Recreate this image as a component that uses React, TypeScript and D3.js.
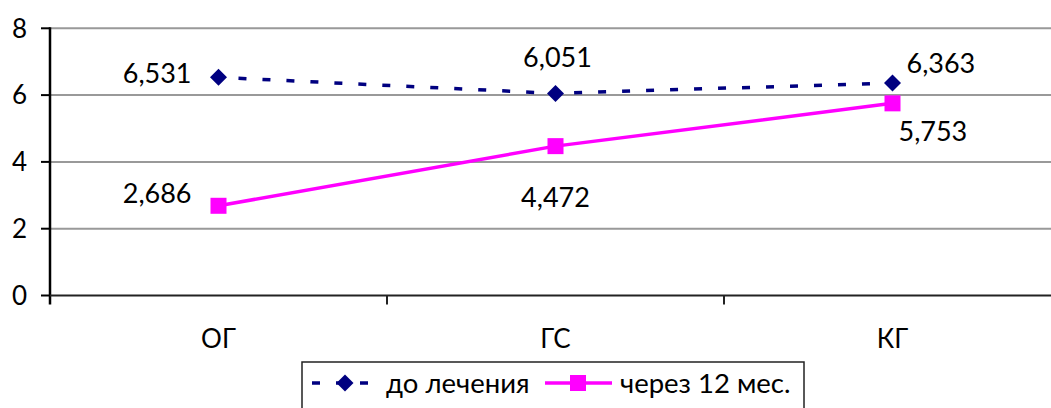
import React from "react";
import * as d3 from "d3";

const categories = ["ОГ", "ГС", "КГ"];
const seriesNames = ["до лечения", "через 12 мес."];
const beforeValues = [6.531, 6.051, 6.363];
const afterValues = [2.686, 4.472, 5.753];
const beforeLabels = ["6,531", "6,051", "6,363"];
const afterLabels = ["2,686", "4,472", "5,753"];
const yTicks = [0, 2, 4, 6, 8];

const W = 1051;
const H = 408;
const FONT = "Lato, 'Open Sans', sans-serif";

export default function App() {
  const x0 = 50;
  const band = 337;
  const x = d3
    .scaleBand<string>()
    .domain(categories)
    .range([x0, x0 + band * categories.length])
    .padding(0);
  const cx = (c: string) => (x(c) as number) + x.bandwidth() / 2;
  const y = d3.scaleLinear().domain([0, 8]).range([295.5, 28.3]);

  const line = d3
    .line<number>()
    .x((_, i) => cx(categories[i]))
    .y((d) => y(d));

  const navy = "#000080";
  const pink = "#FF00FF";

  // label offsets (dx, dy, anchor) relative to point
  const beforeOff: [number, number, string][] = [
    [-27, -4, "end"],
    [2, -36, "middle"],
    [14, -20, "start"],
  ];
  const afterOff: [number, number, string][] = [
    [-27, -13, "end"],
    [0, 51, "middle"],
    [6, 28, "start"],
  ];

  const diamond = (px: number, py: number, r: number) =>
    `M${px},${py - r}L${px + r},${py}L${px},${py + r}L${px - r},${py}Z`;

  return (
    <svg
      width={W}
      height={H}
      style={{ position: "absolute", left: 0, top: 0, background: "#fff" }}
      fontFamily={FONT}
    >
      {/* gridlines */}
      {yTicks.map((t) =>
        t === 0 ? null : (
          <line key={t} x1={x0} x2={W} y1={y(t)} y2={y(t)} stroke="#999" strokeWidth={2} />
        )
      )}
      {/* y ticks + labels */}
      {yTicks.map((t) => (
        <g key={"t" + t}>
          <line x1={41} x2={x0} y1={y(t)} y2={y(t)} stroke="#000" strokeWidth={2} />
          <text x={27} y={y(t)} dy="0.36em" textAnchor="end" fontSize={26} fill="#000">
            {t}
          </text>
        </g>
      ))}
      {/* axes */}
      <line x1={x0} x2={x0} y1={y(8) - 1} y2={y(0) + 9} stroke="#000" strokeWidth={2.5} />
      <line x1={x0} x2={W} y1={y(0)} y2={y(0)} stroke="#222" strokeWidth={2} />
      {categories.slice(1).map((c) => (
        <line
          key={"ct" + c}
          x1={x(c) as number}
          x2={x(c) as number}
          y1={y(0)}
          y2={y(0) + 9}
          stroke="#222"
          strokeWidth={2}
        />
      ))}
      {categories.map((c) => (
        <text key={"cl" + c} x={cx(c)} y={339} dy="0.36em" textAnchor="middle" fontSize={26} fill="#000">
          {c}
        </text>
      ))}

      {/* series */}
      <path d={line(afterValues) || ""} fill="none" stroke={pink} strokeWidth={3.5} />
      <path
        d={line(beforeValues) || ""}
        fill="none"
        stroke={navy}
        strokeWidth={3.5}
        strokeDasharray="8 16"
        strokeDashoffset={-20}
      />
      {afterValues.map((v, i) => (
        <rect
          key={"s" + i}
          x={cx(categories[i]) - 8}
          y={y(v) - 8}
          width={16}
          height={16}
          fill={pink}
        />
      ))}
      {beforeValues.map((v, i) => (
        <path key={"d" + i} d={diamond(cx(categories[i]), y(v), 8.5)} fill={navy} />
      ))}

      {/* data labels */}
      {beforeValues.map((v, i) => (
        <text
          key={"bl" + i}
          x={cx(categories[i]) + beforeOff[i][0]}
          y={y(v) + beforeOff[i][1]}
          dy="0.36em"
          textAnchor={beforeOff[i][2]}
          fontSize={27}
          fill="#000"
        >
          {beforeLabels[i]}
        </text>
      ))}
      {afterValues.map((v, i) => (
        <text
          key={"al" + i}
          x={cx(categories[i]) + afterOff[i][0]}
          y={y(v) + afterOff[i][1]}
          dy="0.36em"
          textAnchor={afterOff[i][2]}
          fontSize={27}
          fill="#000"
        >
          {afterLabels[i]}
        </text>
      ))}

      {/* legend */}
      <rect x={302} y={362} width={502} height={60} fill="#fff" stroke="#222" strokeWidth={1.5} />
      <line x1={312} x2={368} y1={383} y2={383} stroke={navy} strokeWidth={3.5} strokeDasharray="8 16" />
      <path d={diamond(345, 383, 8.5)} fill={navy} />
      <text x={386} y={383} dy="0.36em" fontSize={27.5} fill="#000">
        {seriesNames[0]}
      </text>
      <line x1={545} x2={612} y1={383} y2={383} stroke={pink} strokeWidth={3.5} />
      <rect x={570} y={375} width={16} height={16} fill={pink} />
      <text x={620} y={383} dy="0.36em" fontSize={27.5} fill="#000">
        {seriesNames[1]}
      </text>
    </svg>
  );
}
